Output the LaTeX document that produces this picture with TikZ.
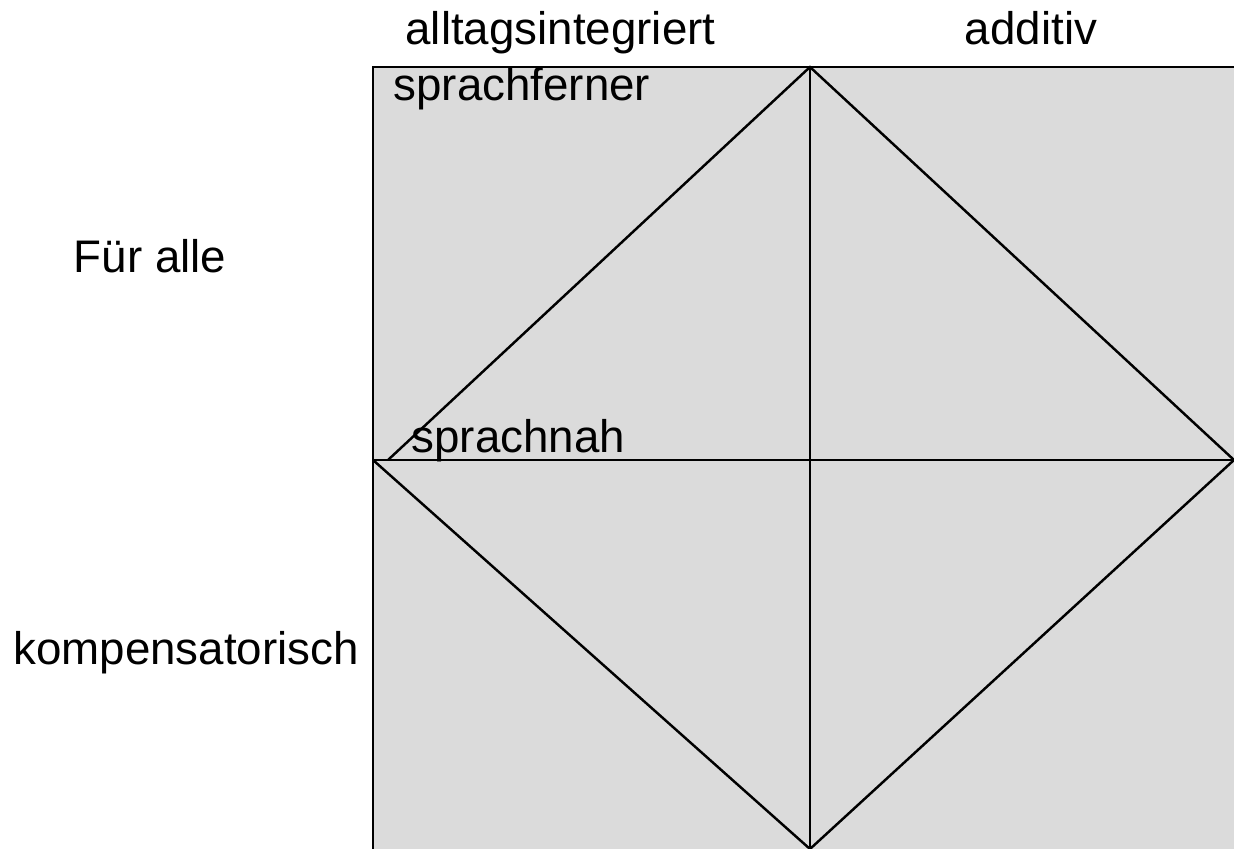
\documentclass[tikz,border=0pt]{standalone}
\usepackage{fontspec}
\setmainfont{Liberation Sans}
\usetikzlibrary{positioning}
\tikzset{
	label/.style={inner sep=0pt, anchor=base, font=\fontsize{13}{15}\selectfont},
	field/.style={fill=black!14, draw=none},
	edge/.style={draw=black, line width=0.7pt}
}

\begin{document}
\begin{tikzpicture}[x=1cm,y=1cm]
			% Frame of the picture
			\useasboundingbox (0,0) rectangle (12.34,-8.49);
			\clip (0,0) rectangle (12.34,-8.49);

			% Corner points
			\coordinate (TL) at (3.73,-0.67);
			\coordinate (TM) at (8.10,-0.67);
			\coordinate (TR) at (12.48,-0.67);
			\coordinate (ML) at (3.73,-4.60);
			\coordinate (MR) at (12.48,-4.60);
			\coordinate (BL) at (3.73,-8.60);
			\coordinate (BM) at (8.10,-8.49);
			\coordinate (SN) at (3.88,-4.60);
			\coordinate (RR) at (12.34,-4.60);

			% Grey field
			\path [field] (TL) rectangle (12.48,-8.60);

			% Draw lines
			\draw [edge] (BL) -- (TL) -- (TR);
			\draw [edge] (ML) -- (MR);
			\draw [edge] (TM) -- (8.10,-8.60);

			% Diamond
			\draw [edge] (SN) -- (TM) -- (RR);
			\draw [edge] (ML) -- (BM) -- (RR);

			% Labels
			\node [label] (alltag) at (5.605,-0.45) {alltagsintegriert};
			\node [label] (additiv) at (10.31,-0.45) {additiv};
			\node [label, anchor=base west] (fern) at (3.93,-1.01) {sprachferner};
			\node [label, anchor=base west] (nah) at (4.11,-4.53) {sprachnah};
			\node [label] (alle) at (1.50,-2.73) {Für alle};
			\node [label] (kompens) at (1.86,-6.65) {kompensatorisch};
		\end{tikzpicture}
\end{document}
